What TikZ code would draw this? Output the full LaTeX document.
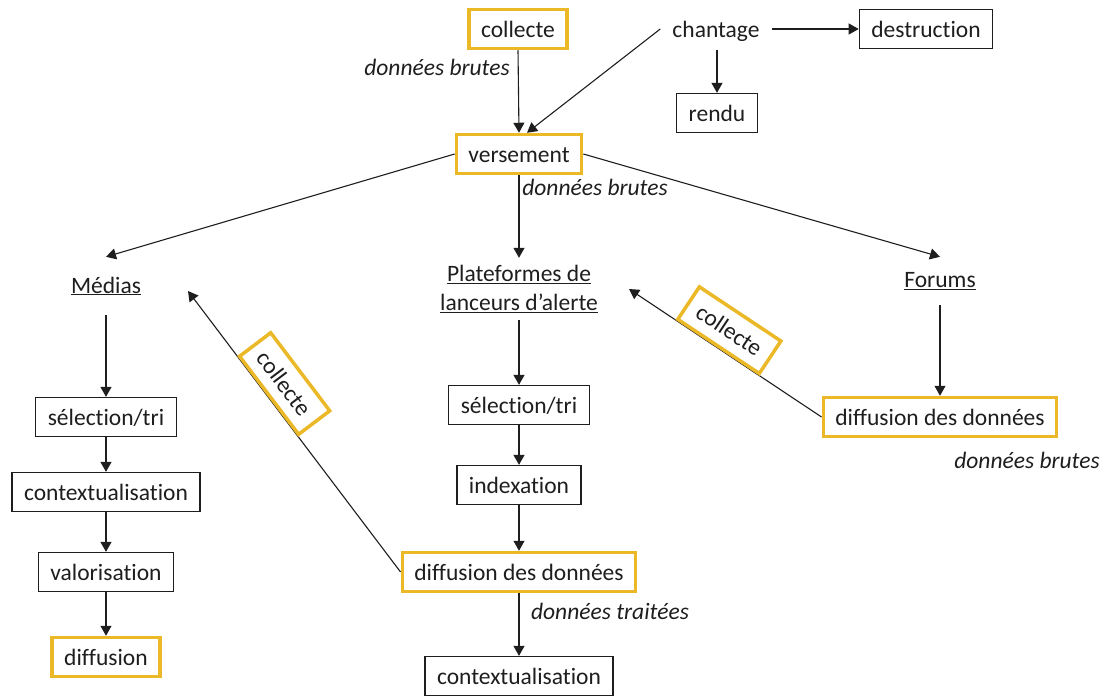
\documentclass[tikz,border=0pt]{standalone}
\usepackage{fontspec}
\setmainfont{Carlito}[RawFeature={-liga}]
\usetikzlibrary{arrows.meta,calc}
\definecolor{goldc}{RGB}{235,185,40}
\definecolor{ink}{RGB}{30,30,30}
\begin{document}
\begin{tikzpicture}[x=1pt,y=-1pt,
  font=\fontsize{23.5}{29}\selectfont, text=ink,
  base/.style={inner xsep=12pt, inner ysep=0pt, minimum height=39pt, text height=19pt, text depth=3pt},
  plainbox/.style={base, draw=ink, line width=1.3pt, fill=white},
  goldbox/.style={base, draw=goldc, line width=3.5pt, fill=white},
  lbl/.style={font=\fontsize{23.5}{29}\selectfont\itshape, inner sep=0pt},
  ttl/.style={inner xsep=12pt, inner ysep=0pt, align=center},
  arr/.style={draw=ink, line width=1.1pt, -{Triangle[length=10pt,width=11pt]}}
]
\useasboundingbox (0,0) rectangle (1109,697);

% top
\node[goldbox] (coll) at (518,29) {collecte};
\node[ttl, minimum height=42pt, text height=19pt, text depth=3pt] (chant) at (716,29) {chantage};
\node[plainbox] (destr) at (926,29) {destruction};
\node[plainbox] (rendu) at (717,113) {rendu};
\node[goldbox] (verse) at (519,154) {versement};
\node[lbl] (db1) at (437,67) {données brutes};
\node[lbl] (db2) at (595,187) {données brutes};

% second level
\node[ttl, minimum height=58pt] (medias) at (106,286) {\underline{Médias}};
\node[ttl, minimum height=62pt] (plat) at (519,289) {\underline{Plateformes de}\\\underline{lanceurs d’alerte}};
\node[ttl, minimum height=48pt] (forums) at (940,281) {\underline{Forums}};

% left column
\node[plainbox] (sel1) at (106,417) {sélection/tri};
\node[plainbox] (ctx1) at (106,492) {contextualisation};
\node[plainbox] (val1) at (106,572) {valorisation};
\node[goldbox] (dif1) at (106,657) {diffusion};

% middle column
\node[plainbox] (sel2) at (519,405) {sélection/tri};
\node[plainbox] (idx) at (519,485) {indexation};
\node[goldbox] (dif2) at (519,572) {diffusion des données};
\node[lbl] (dt) at (610,611) {données traitées};
\node[plainbox] (ctx2) at (519,676) {contextualisation};

% right column
\node[goldbox] (dif3) at (940,417) {diffusion des données};
\node[lbl] (db3) at (1027,460) {données brutes};

\coordinate (tipL) at (188,291);
\coordinate (tipR) at (629,289);

% connectors
\draw[arr] (coll.south) -- (verse.north);
\draw[arr] (chant.west) -- ($(verse.north)+(8,0)$);
\draw[arr] (chant.east) -- (destr.west);
\draw[arr] (chant.south -| rendu.north) -- (rendu.north);
\draw[arr] (verse.west) -- (medias.north);
\draw[arr] (verse.south) -- (plat.north);
\draw[arr] (verse.east) -- (forums.north);

\draw[arr] (medias.south) -- (sel1.north);
\draw[arr] (sel1.south) -- (ctx1.north);
\draw[arr] (ctx1.south) -- (val1.north);
\draw[arr] (val1.south) -- (dif1.north);

\draw[arr] (plat.south) -- (sel2.north);
\draw[arr] (sel2.south) -- (idx.north);
\draw[arr] (idx.south) -- (dif2.north);
\draw[arr] (dif2.south) -- (ctx2.north);

\draw[arr] (forums.south) -- (dif3.north);

\draw[arr] (dif2.west) -- node[goldbox, sloped, pos=0.625, anchor=south] (colL) {collecte} (tipL);
\draw[arr] (dif3.west) -- node[goldbox, sloped, pos=0.54, anchor=south] (colR) {collecte} (tipR);
\end{tikzpicture}
\end{document}
